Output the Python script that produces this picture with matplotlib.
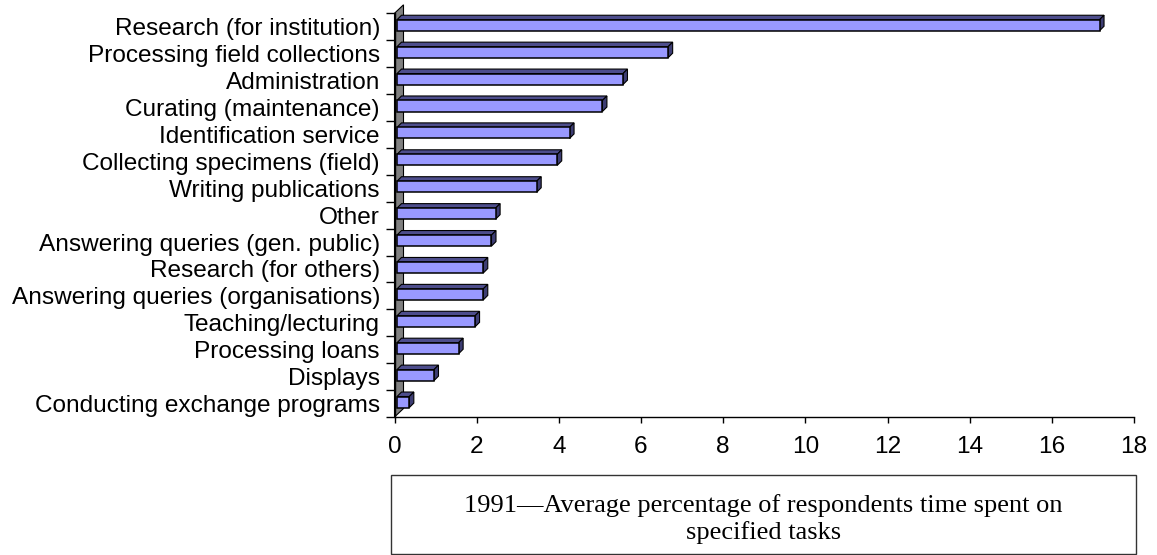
import matplotlib.pyplot as plt
from matplotlib.patches import Polygon, Rectangle
import numpy as np

# data
tasks = ['Research (for institution)', 'Processing field collections', 'Administration',
         'Curating (maintenance)', 'Identification service', 'Collecting specimens (field)',
         'Writing publications', 'Other', 'Answering queries (gen. public)',
         'Research (for others)', 'Answering queries (organisations)', 'Teaching/lecturing',
         'Processing loans', 'Displays', 'Conducting exchange programs']
pct = [17.1, 6.6, 5.5, 5.0, 4.2, 3.9, 3.4, 2.4, 2.3, 2.1, 2.1, 1.9, 1.5, 0.9, 0.3]
xticks = np.arange(0, 20, 2)
caption = '1991\u2014Average percentage of respondents time spent on\nspecified tasks'

W_PX, H_PX = 1157, 555
fig = plt.figure(figsize=(W_PX / 100, H_PX / 100), dpi=100)

# axes box in pixels (left, right, top, bottom measured from the top)
x0, x1, yt, yb = 394.5, 1134.0, 13.3, 417.0
ax = fig.add_axes([x0 / W_PX, 1 - yb / H_PX, (x1 - x0) / W_PX, (yb - yt) / H_PX])

n = len(tasks)
ypos = np.arange(n)
ax.set_xlim(0, 18)
ax.set_ylim(n - 0.5, -0.5)

# data units per pixel
ux = 18 / (x1 - x0)
uy = n / (yb - yt)

# back wall (gray, slanted)
wdx, wdy = 9 * ux, 8.5 * uy
wall = Polygon([(0, n - 0.5), (0, -0.5), (wdx, -0.5 - wdy), (wdx, n - 0.5 - wdy)],
               closed=True, facecolor='#808080', edgecolor='black', lw=0.8,
               clip_on=False, zorder=1)
ax.add_patch(wall)

# bars with 3D faces
bh = 0.41
shift = -1.5 * uy
off0 = 2.5 * ux
ddx, ddy = 4.5 * ux, 4.5 * uy
ax.barh(ypos + shift, pct, left=off0, height=bh, color='#9999ff',
        edgecolor='black', linewidth=1.1, zorder=3)
for y, v in zip(ypos + shift, pct):
    top = y - bh / 2
    bot = y + bh / 2
    tf = Polygon([(off0, top), (off0 + v, top), (off0 + v + ddx, top - ddy), (off0 + ddx, top - ddy)],
                 closed=True, facecolor='#4d4d8c', edgecolor='black', lw=0.8, zorder=2.9,
                 clip_on=False)
    sf = Polygon([(off0 + v, top), (off0 + v + ddx, top - ddy), (off0 + v + ddx, bot - ddy), (off0 + v, bot)],
                 closed=True, facecolor='#3d3d73', edgecolor='black', lw=0.8, zorder=2.9,
                 clip_on=False)
    ax.add_patch(tf)
    ax.add_patch(sf)

# axes styling
for s in ['top', 'right']:
    ax.spines[s].set_visible(False)
for s in ['left', 'bottom']:
    ax.spines[s].set_linewidth(1.0)
    ax.spines[s].set_color('black')
    ax.spines[s].set_zorder(4)

ax.set_yticks(ypos)
ax.set_yticklabels(tasks, fontsize=17.6, family='Liberation Sans')
ax.set_yticks(np.arange(n + 1) - 0.5, minor=True)
ax.tick_params(axis='y', which='major', length=0, pad=10.5)
ax.tick_params(axis='y', which='minor', length=6.5, width=1.0, direction='out')
ax.set_xticks(xticks)
ax.set_xticklabels([str(t) for t in xticks], fontsize=17.6, family='Liberation Sans')
ax.tick_params(axis='x', length=4.3, width=1.0, direction='out', pad=9.5)
ax.tick_params(axis='x', which='minor', bottom=False)

# caption box
bx0, bx1, by0, by1 = 391, 1136, 475, 554
fig.patches.append(Rectangle((bx0 / W_PX, 1 - by1 / H_PX), (bx1 - bx0) / W_PX, (by1 - by0) / H_PX,
                             transform=fig.transFigure, facecolor='white',
                             edgecolor='#333333', lw=1.0))
fig.text((bx0 + bx1) / 2 / W_PX, 1 - 519 / H_PX, caption, ha='center', va='center',
         fontsize=19, family='Liberation Serif', linespacing=1.25)

fig.savefig('out.png', dpi=100)
